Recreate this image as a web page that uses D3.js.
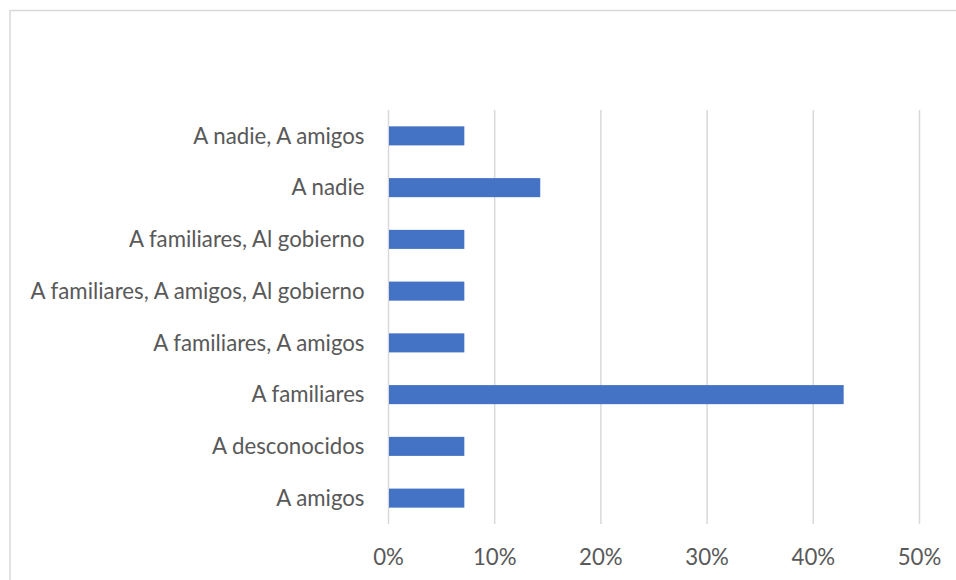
<!DOCTYPE html>
<html>
<head>
<meta charset="utf-8">
<script src="https://cdn.jsdelivr.net/npm/d3@7"></script>
<style>
  html, body { margin: 0; padding: 0; background: #fff; }
  svg { display: block; }
</style>
</head>
<body>
<svg id="chart" width="956" height="580"></svg>
<script>
const categories = [
  "A nadie, A amigos",
  "A nadie",
  "A familiares, Al gobierno",
  "A familiares, A amigos, Al gobierno",
  "A familiares, A amigos",
  "A familiares",
  "A desconocidos",
  "A amigos"
];
const values = [0.0714, 0.1429, 0.0714, 0.0714, 0.0714, 0.4286, 0.0714, 0.0714];
const tickValues = [0, 0.1, 0.2, 0.3, 0.4, 0.5];
const tickLabels = ["0%", "10%", "20%", "30%", "40%", "50%"];

const svg = d3.select("#chart");
const fontFamily = "Lato, 'Open Sans', sans-serif";

// outer frame
svg.append("rect")
  .attr("x", 10).attr("y", 10.5)
  .attr("width", 1000).attr("height", 1000)
  .attr("fill", "none")
  .attr("stroke", "#d9d9d9")
  .attr("stroke-width", 1.5);

const plot = { left: 388.5, right: 919.5, top: 110, bottom: 524 };

const x = d3.scaleLinear().domain([0, 0.5]).range([plot.left, plot.right]);
const y = d3.scaleBand().domain(categories).range([plot.top, plot.bottom]).paddingInner(0.632).paddingOuter(0.316);

// gridlines
svg.append("g").selectAll("line")
  .data(tickValues)
  .join("line")
  .attr("x1", d => x(d)).attr("x2", d => x(d))
  .attr("y1", plot.top).attr("y2", plot.bottom)
  .attr("stroke", "#d9d9d9")
  .attr("stroke-width", 1.5);

// bars
svg.append("g").selectAll("rect")
  .data(categories)
  .join("rect")
  .attr("x", x(0) + 0.5)
  .attr("y", d => y(d))
  .attr("width", (d, i) => x(values[i]) - x(0) - 0.5)
  .attr("height", y.bandwidth())
  .attr("fill", "#4472C4");

// category labels
const labels = svg.append("g").selectAll("text")
  .data(categories)
  .join("text")
  .attr("x", plot.left - 24)
  .attr("y", d => y(d) + y.bandwidth() / 2)
  .attr("dy", "0.35em")
  .attr("text-anchor", "end")
  .attr("font-family", fontFamily)
  .attr("font-size", 20)
  .attr("fill", "#595959")
  .text(d => d);

// fit font size so the longest label spans ~334px like the reference
let maxW = 0;
labels.each(function() { maxW = Math.max(maxW, this.getComputedTextLength()); });
const fs = Math.max(14, Math.min(26, 20 * 334 / maxW));
labels.attr("font-size", fs);

// x tick labels
svg.append("g").selectAll("text")
  .data(tickValues)
  .join("text")
  .attr("x", d => x(d))
  .attr("y", 557)
  .attr("dy", "0.35em")
  .attr("text-anchor", "middle")
  .attr("font-family", fontFamily)
  .attr("font-size", fs)
  .attr("fill", "#595959")
  .text((d, i) => tickLabels[i]);
</script>
</body>
</html>
